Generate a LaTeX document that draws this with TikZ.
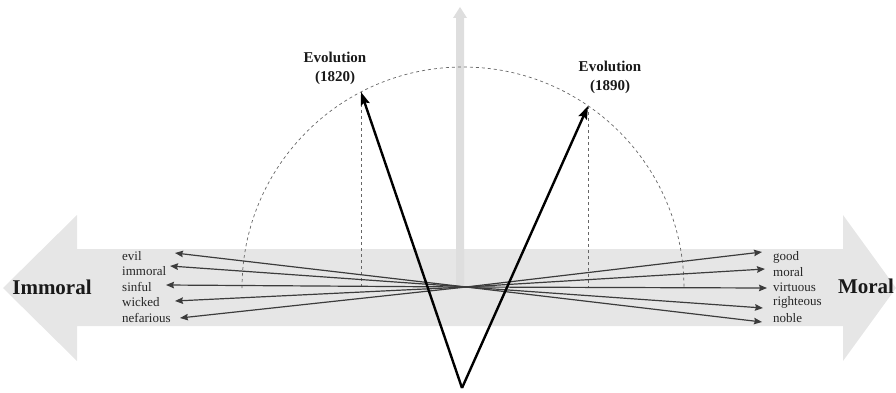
\documentclass[tikz,border=0pt]{standalone}
\usepackage{fontspec}
\setmainfont{Liberation Serif}
\usetikzlibrary{arrows.meta,positioning,calc}
\definecolor{bandgray}{RGB}{230,230,230}
\definecolor{axisgray}{RGB}{222,222,222}
\definecolor{wordline}{RGB}{60,60,60}

\begin{document}
\begin{tikzpicture}[x=1pt,y=1pt,
    word/.style={anchor=west, inner sep=0pt, font=\fontsize{13}{13}\selectfont, text=black!85},
    pole/.style={inner sep=0pt, font=\fontsize{21}{21}\selectfont\bfseries, text=black!90},
    evo/.style={inner sep=0pt, align=center, font=\fontsize{15}{19}\selectfont\bfseries, text=black!90},
    wordarrow/.style={-{Stealth[length=8pt,width=6.5pt,inset=1pt]}, wordline, line width=1.2pt},
    evoarrow/.style={-{Stealth[length=13pt,width=9pt,inset=2pt]}, black, line width=2.4pt},
    guide/.style={dashed, gray!80!black, line width=0.7pt}]
  \useasboundingbox (0,0) rectangle (896,392);
  % Broad double arrow: immoral <-> moral
  \fill[bandgray] (3,104) -- (77,177) -- (77,143) -- (843,143) -- (843,177)
    -- (896,104) -- (843,31) -- (843,66) -- (77,66) -- (77,31) -- cycle;
  % Vertical axis
  \fill[axisgray] (456,104) -- (456,374) -- (453,374) -- (460,385)
    -- (467,374) -- (464,374) -- (464,104) -- cycle;
  % Points
  \coordinate (O) at (463,104);
  \coordinate (C) at (466,105);
  \coordinate (B) at (462,4);
  \coordinate (E1) at (361,300);
  \coordinate (E2) at (588,286);
  % Half circle and projections
  \draw[guide] (242,104) arc (180:0:221);
  \draw[guide] (E1) -- (E1 |- O);
  \draw[guide] (E2) -- (E2 |- O);
  % Word vectors
  \coordinate (evilT) at (175,139);
  \coordinate (immoralT) at (170,126);
  \coordinate (sinfulT) at (166,107);
  \coordinate (wickedT) at (175,91);
  \coordinate (nefariousT) at (180,74);
  \coordinate (goodT) at (762,140);
  \coordinate (moralT) at (765,123);
  \coordinate (virtuousT) at (767,104);
  \coordinate (righteousT) at (763,84);
  \coordinate (nobleT) at (762,70);
  \draw[wordarrow] (C) -- (evilT);
  \draw[wordarrow] (C) -- (immoralT);
  \draw[wordarrow] (C) -- (sinfulT);
  \draw[wordarrow] (C) -- (wickedT);
  \draw[wordarrow] (C) -- (nefariousT);
  \draw[wordarrow] (C) -- (goodT);
  \draw[wordarrow] (C) -- (moralT);
  \draw[wordarrow] (C) -- (virtuousT);
  \draw[wordarrow] (C) -- (righteousT);
  \draw[wordarrow] (C) -- (nobleT);
  % Evolution vectors
  \draw[evoarrow] (B) -- (E1);
  \draw[evoarrow] (B) -- (E2);
  % Labels
  \node[word] (evil) at (122,136) {evil};
  \node[word] (immoral) at (122,121) {immoral};
  \node[word] (sinful) at (122,105) {sinful};
  \node[word] (wicked) at (122,90) {wicked};
  \node[word] (nefarious) at (122,74) {nefarious};
  \node[word] (good) at (773,135) {good};
  \node[word] (moral) at (773,120) {moral};
  \node[word] (virtuous) at (773,105) {virtuous};
  \node[word] (righteous) at (773,90) {righteous};
  \node[word] (noble) at (773,74) {noble};
  \node[pole] (immoralpole) at (52,105) {Immoral};
  \node[pole] (moralpole) at (866,106) {Moral};
  \node[evo] (evo1820) at (335,324) {Evolution\\(1820)};
  \node[evo] (evo1890) at (610,315) {Evolution\\(1890)};
\end{tikzpicture}
\end{document}
